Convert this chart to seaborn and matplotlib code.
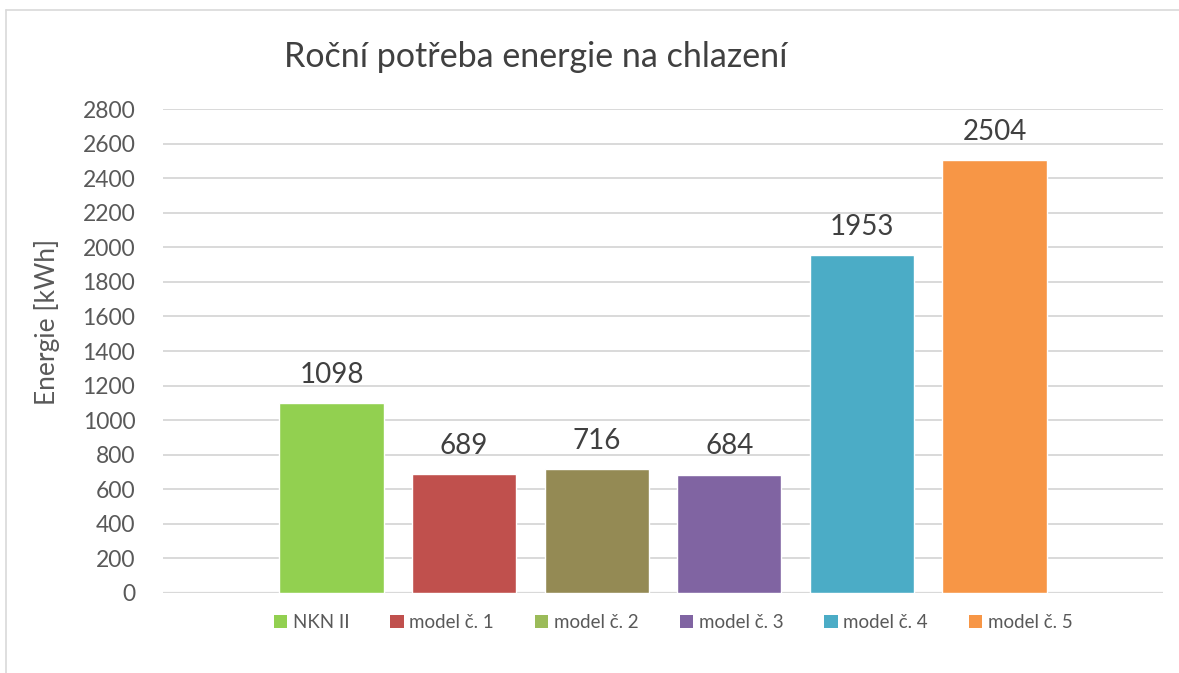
import matplotlib
matplotlib.use("Agg")
import matplotlib.pyplot as plt
from matplotlib.patches import Patch
from matplotlib.lines import Line2D
import seaborn as sns
import pandas as pd

categories = ["NKN II", "model č. 1", "model č. 2", "model č. 3", "model č. 4", "model č. 5"]
values = [1098, 689, 716, 684, 1953, 2504]
bar_colors = ["#92D050", "#C0504D", "#948A54", "#8064A2", "#4BACC6", "#F79646"]
legend_colors = ["#92D050", "#C0504D", "#9BBB59", "#8064A2", "#4BACC6", "#F79646"]
y_ticks = list(range(0, 2801, 200))

sns.set_style("white")
plt.rcParams["font.family"] = ["Lato", "DejaVu Sans"]

df = pd.DataFrame({"model": categories, "energie": values})

fig = plt.figure(figsize=(11.79, 6.73), dpi=100)
ax = fig.add_axes([0.1383, 0.1189, 0.8481, 0.7191])

sns.barplot(data=df, x="model", y="energie", hue="model", palette=bar_colors,
            width=0.785, legend=False, ax=ax, saturation=1)

ax.set_xlim(-1.27, len(categories) - 1 + 1.27)
ax.set_ylim(0, 2800)
ax.set_yticks(y_ticks)
ax.yaxis.grid(True, color="#D9D9D9", linewidth=1.4)
ax.set_axisbelow(True)
for s in ax.spines.values():
    s.set_visible(False)
ax.axhline(0, color="#D9D9D9", linewidth=1.6, zorder=0.5)
ax.set_xticks([])
ax.set_xlabel("")
ax.set_ylabel("Energie [kWh]", fontsize=19, color="#595959")
ax.yaxis.set_label_coords(-0.103, 0.56)
ax.tick_params(axis="y", length=0, labelsize=16.5, labelcolor="#595959", pad=20)

for container in ax.containers:
    ax.bar_label(container, fmt="%d", padding=11, fontsize=20, color="#404040")

fig.text(0.454, 0.915, "Roční potřeba energie na chlazení", ha="center", va="center",
         fontsize=24.5, color="#404040")

handles = [Patch(facecolor=c, edgecolor="none") for c in legend_colors]
fig.legend(handles, categories, loc="center", bbox_to_anchor=(0.571, 0.075), ncol=6,
           frameon=False, fontsize=13.5, handlelength=0.7, handleheight=0.7,
           handletextpad=0.3, columnspacing=2.2, labelcolor="#595959")

# outer chart frame (left and top edges)
fig.add_artist(Line2D([6 / 1179, 6 / 1179], [0, 1 - 10 / 673], transform=fig.transFigure,
                      color="#D9D9D9", linewidth=1.2))
fig.add_artist(Line2D([6 / 1179, 1], [1 - 10 / 673, 1 - 10 / 673], transform=fig.transFigure,
                      color="#D9D9D9", linewidth=1.2))

fig.savefig("out.png", dpi=100, facecolor="white")
